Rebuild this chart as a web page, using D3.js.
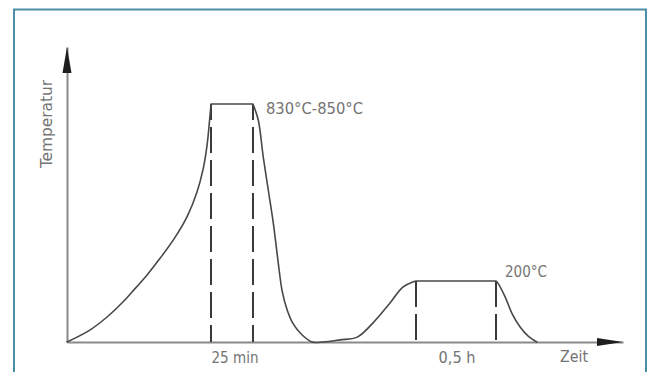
<!DOCTYPE html>
<html>
<head>
<meta charset="utf-8">
<script src="https://cdn.jsdelivr.net/npm/d3@7"></script>
<style>
  html, body { margin: 0; padding: 0; background: #fff; }
  svg { display: block; }
  text { font-family: "DejaVu Sans Condensed", sans-serif; fill: #747474; }
</style>
</head>
<body>
<svg id="chart" width="647" height="372"></svg>
<script>
// Heat-treatment cycle: hardening hold, quench, then tempering hold (schematic, time in relative units)
const time = [0, 4.1, 7.2, 10.1, 11.7, 14.4, 16.7, 19.4, 21.6, 23.4, 24.5, 25.2, 25.5, 25.9,
              33.45, 34.4, 35.3, 36.2, 37.1, 38.0, 38.7, 39.6, 40.6, 42.3, 44.1, 46.0,
              49.1, 52.2, 55.0, 58.1, 60.4, 62.2, 62.77,
              77.16, 77.5, 78.8, 80.0, 81.5, 82.9, 84.5];
const temperature = [0, 39, 82, 132, 164, 222, 281, 357, 433, 523, 606, 692, 750, 840,
              840, 782, 648, 529, 410, 265, 167, 105, 62, 23, 0, 0,
              7, 16, 62, 128, 180, 197, 200,
              200, 193, 148, 95, 49, 20, 0];

// Hold phases: start/end time, hold temperature and labels
const holdStart = [25.9, 62.77];
const holdEnd = [33.45, 77.16];
const holdTemp = [840, 200];
const holdTempLabels = ["830°C-850°C", "200°C"];
const holdTimeLabels = ["25 min", "0,5 h"];

const axisTitles = { x: "Zeit", y: "Temperatur" };
const timeMax = 100;       // end of the time axis (arrow tip)
const tempMax = 1046;      // end of the temperature axis (arrow tip)

const svg = d3.select("#chart");

// Frame
svg.append("rect")
  .attr("x", 14).attr("y", 9.5).attr("width", 632).attr("height", 380)
  .attr("fill", "#fff").attr("stroke", "#4a8fa6").attr("stroke-width", 2);

// Scales (schematic: low range stretched so the tempering hold is readable)
const x = d3.scaleLinear().domain([0, timeMax]).range([67, 623]);
const y = d3.scaleLinear().domain([0, 200, tempMax]).range([342, 281, 47]);

// Axes without ticks
const gx = svg.append("g").attr("transform", `translate(0,${y(0)})`)
  .call(d3.axisBottom(x).tickValues([]).tickSizeOuter(0));
const gy = svg.append("g").attr("transform", `translate(${x(0)},0)`)
  .call(d3.axisLeft(y).tickValues([]).tickSizeOuter(0));
[gx, gy].forEach(g => g.select(".domain").attr("stroke", "#8a8a8a").attr("stroke-width", 2));

// Arrowheads
const xt = x(timeMax), y0 = y(0), yt = y(tempMax), x0 = x(0);
svg.append("path")
  .attr("d", `M${xt},${y0} L${xt - 26},${y0 - 4} L${xt - 26},${y0 + 4} Z`)
  .attr("fill", "#1e1e1e");
svg.append("path")
  .attr("d", `M${x0},${yt} L${x0 - 4.5},${yt + 26} L${x0 + 4.5},${yt + 26} Z`)
  .attr("fill", "#1e1e1e");

// Dashed hold markers
const dashOffsets = [10, 0];
holdStart.forEach((t0, i) => {
  [t0, holdEnd[i]].forEach(t => {
    svg.append("line")
      .attr("x1", x(t)).attr("x2", x(t))
      .attr("y1", y(holdTemp[i])).attr("y2", y(0))
      .attr("stroke", "#3a3a3a").attr("stroke-width", 2)
      .attr("stroke-dasharray", "26,7")
      .attr("stroke-dashoffset", dashOffsets[i]);
  });
});

// Temperature curve: smooth ramps, straight holds
const pts = time.map((t, i) => [t, temperature[i]]);
const breaks = [0];
holdStart.forEach((t, i) => {
  breaks.push(time.indexOf(t), time.indexOf(holdEnd[i]));
});
breaks.push(time.length - 1);
const ramp = d3.line().x(d => x(d[0])).y(d => y(d[1])).curve(d3.curveCatmullRom.alpha(0.5));
const hold = d3.line().x(d => x(d[0])).y(d => y(d[1]));
let dPath = "";
for (let k = 0; k < breaks.length - 1; k++) {
  const seg = pts.slice(breaks[k], breaks[k + 1] + 1);
  dPath += (k % 2 === 0 ? ramp : hold)(seg);
}
svg.append("path")
  .attr("d", dPath)
  .attr("fill", "none").attr("stroke", "#484848").attr("stroke-width", 1.6)
  .attr("stroke-linejoin", "round").attr("stroke-linecap", "round");

// Hold temperature labels
svg.append("text").attr("x", x(holdEnd[0]) + 13).attr("y", y(holdTemp[0]) + 10)
  .attr("font-size", 15).attr("textLength", 97).attr("lengthAdjust", "spacingAndGlyphs")
  .text(holdTempLabels[0]);
svg.append("text").attr("x", x(holdEnd[1]) + 9).attr("y", y(holdTemp[1]) - 4)
  .attr("font-size", 15).attr("textLength", 42).attr("lengthAdjust", "spacingAndGlyphs")
  .text(holdTempLabels[1]);

// Hold duration labels
const durLens = [47, 37];
holdTimeLabels.forEach((s, i) => {
  svg.append("text")
    .attr("x", (x(holdStart[i]) + x(holdEnd[i])) / 2 + (i === 0 ? 3 : 1))
    .attr("y", y(0) + 21)
    .attr("text-anchor", "middle")
    .attr("font-size", 15).attr("textLength", durLens[i]).attr("lengthAdjust", "spacingAndGlyphs")
    .text(s);
});

// Axis titles
svg.append("text").attr("x", 560).attr("y", y(0) + 20)
  .attr("font-size", 15).attr("textLength", 28).attr("lengthAdjust", "spacingAndGlyphs")
  .text(axisTitles.x);
svg.append("text")
  .attr("transform", `translate(52,168) rotate(-90)`)
  .attr("font-size", 15).attr("textLength", 88).attr("lengthAdjust", "spacingAndGlyphs")
  .text(axisTitles.y);
</script>
</body>
</html>
